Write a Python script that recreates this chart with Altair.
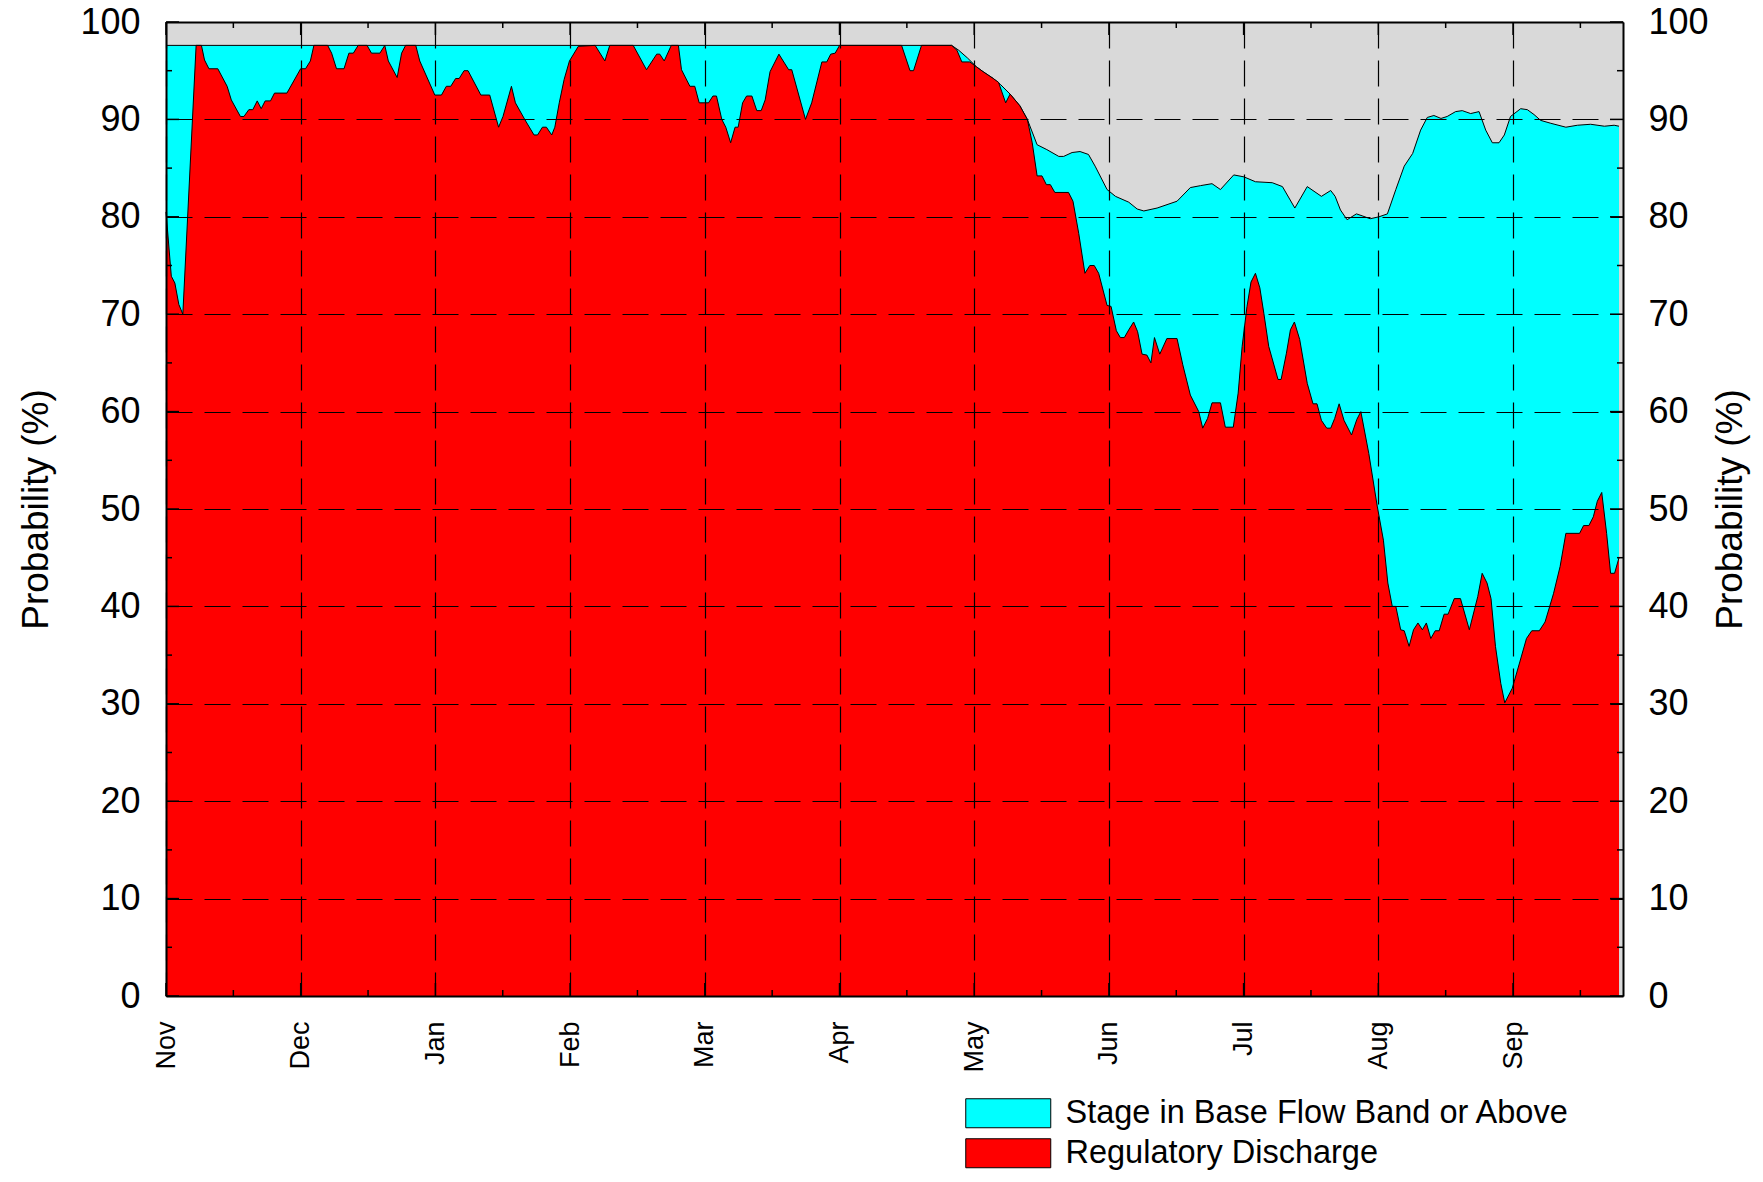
import altair as alt
import pandas as pd

# ---------------- data ----------------
MONTHS = ["Nov", "Dec", "Jan", "Feb", "Mar", "Apr", "May", "Jun", "Jul", "Aug", "Sep"]
SERIES = ["Stage in Base Flow Band or Above", "Regulatory Discharge"]
COLORS = ["#00ffff", "#ff0000"]
Y_MAJOR = [0, 10, 20, 30, 40, 50, 60, 70, 80, 90, 100]
Y_MINOR = [5, 15, 25, 35, 45, 55, 65, 75, 85, 95]

# Stage in base flow band or above (day since Nov 1, probability %)
STAGE_DAY = [0, 177.4, 179.0, 181.0, 183.0, 184.5, 186.8, 188.4, 190.6, 192.8, 194.5,
             196.7, 198.9, 201.6, 202.7, 204.6, 206.4, 208.3, 209.8, 212.5, 214.4,
             217.4, 219.3, 220.8, 223.8, 228.3, 231.3, 233.6, 236.2, 238.1, 241.1,
             243.4, 246.0, 249.8, 252.1, 254.9, 257.7, 260.9, 263.0, 264.0, 265.2,
             266.7, 268.8, 270.1, 271.9, 273.9, 275.8, 277.7, 279.6, 281.5, 283.3,
             284.8, 286.3, 287.9, 289.3, 291.2, 292.7, 294.6, 296.5, 298.0, 299.5,
             301.0, 302.2, 303.6, 305.9, 307.4, 308.9, 310.4, 312.7, 316.1, 318.7,
             321.7, 324.8, 327.0, 328.1]
STAGE_PCT = [97.6, 97.6, 97.1, 96.3, 95.4, 94.9, 94.2, 93.6, 92.6, 91.4, 90.0,
             87.4, 86.9, 86.2, 86.2, 86.6, 86.7, 86.4, 85.2, 82.8, 82.1,
             81.5, 80.8, 80.6, 80.9, 81.6, 83.0, 83.2, 83.4, 82.8, 84.3,
             84.1, 83.6, 83.5, 83.1, 80.9, 83.1, 82.1, 82.7, 82.1, 80.7,
             79.7, 80.3, 80.1, 79.8, 80.0, 80.3, 82.8, 85.2, 86.5, 88.9,
             90.2, 90.4, 90.1, 90.3, 90.8, 90.9, 90.6, 90.8, 88.9, 87.6,
             87.6, 88.4, 90.3, 91.1, 91.0, 90.5, 89.9, 89.6, 89.2, 89.4,
             89.5, 89.3, 89.4, 89.3]

# Regulatory discharge (day since Nov 1, probability %)
REG_DAY = [0, 1.2, 2.0, 2.9, 3.8, 6.8, 8.0, 8.7, 9.7, 11.7, 13.8, 14.75, 16.8, 17.6,
           18.7, 19.6, 20.6, 21.5, 22.4, 23.6, 24.5, 27.3, 30.4, 31.5, 32.6, 33.4,
           36.5, 37.4, 38.5, 40.2, 41.3, 42.3, 43.4, 45.4, 46.4, 48.3, 49.4, 50.2,
           52.2, 53.2, 54.1, 56.4, 57.3, 60.7, 62.2, 63.3, 64.3, 65.4, 66.2, 67.3,
           68.2, 71.1, 73.1, 75.1, 76.1, 78.0, 78.9, 81.0, 83.1, 83.9, 85.0, 85.9,
           87.1, 87.8, 88.8, 89.9, 91.1, 93.1, 96.9, 99.1, 100.2, 105.5, 108.5,
           110.8, 111.5, 112.5, 114.1, 115.7, 116.4, 118.3, 119.4, 120.4, 122.5,
           123.5, 124.3, 125.5, 126.4, 127.5, 128.5, 129.2, 130.2, 131.1, 132.3,
           133.4, 134.4, 135.3, 136.4, 138.4, 140.6, 141.3, 144.4, 145.8, 148.1,
           149.2, 150.1, 151.1, 152.1, 166.1, 168.0, 168.8, 170.6, 177.4, 178.6,
           179.7, 181.5, 183.0, 184.5, 186.8, 188.0, 189.6, 190.6, 192.8, 194.5,
           195.6, 196.7, 197.8, 198.8, 199.7, 200.7, 203.8, 204.8, 206.1, 207.5,
           208.6, 209.6, 210.6, 212.5, 213.4, 214.6, 215.5, 216.4, 217.4, 218.5,
           219.4, 220.4, 221.5, 222.4, 223.2, 224.4, 226.0, 228.3, 229.6, 231.3,
           233.2, 234.1, 235.2, 236.2, 238.1, 239.2, 241.0, 242.1, 243.0, 244.1,
           245.0, 246.0, 247.0, 247.9, 249.0, 251.1, 251.8, 253.0, 253.9, 254.8,
           256.0, 257.7, 259.0, 259.9, 260.9, 262.1, 263.0, 263.9, 264.9, 266.0,
           267.7, 268.9, 269.8, 271.6, 273.5, 274.9, 275.9, 276.9, 277.7, 278.8,
           279.6, 280.7, 281.7, 282.7, 283.7, 284.6, 285.6, 286.6, 287.5, 288.6,
           289.5, 290.9, 292.3, 294.3, 296.2, 297.2, 298.3, 299.2, 300.2, 301.4,
           302.3, 304.0, 305.7, 307.2, 308.4, 310.1, 311.4, 313.3, 314.8, 316.1,
           319.2, 320.1, 321.3, 322.3, 323.2, 324.2, 325.3, 326.2, 327.1, 328.1]
REG_PCT = [80.5, 73.9, 73.2, 71.0, 70.0, 97.6, 97.6, 96.1, 95.2, 95.2, 93.4, 92.0, 90.3, 90.3,
           91.0, 91.0, 91.9, 91.1, 91.9, 91.9, 92.7, 92.7, 95.2, 95.2, 96.0, 97.6,
           97.6, 96.8, 95.2, 95.2, 96.8, 96.8, 97.6, 97.6, 96.8, 96.8, 97.6, 96.0,
           94.3, 96.8, 97.6, 97.6, 96.0, 92.5, 92.5, 93.4, 93.4, 94.2, 94.2, 95.0,
           95.0, 92.5, 92.5, 89.2, 90.3, 93.4, 91.7, 90.0, 88.4, 88.4, 89.2, 89.2,
           88.4, 89.2, 91.7, 94.1, 96.0, 97.5, 97.6, 96.0, 97.6, 97.6, 95.1,
           96.7, 96.7, 96.0, 97.6, 97.6, 95.1, 93.4, 93.4, 91.7, 91.7,
           92.4, 92.4, 90.0, 89.2, 87.6, 89.2, 89.2, 91.7, 92.4, 92.4,
           90.9, 90.9, 92.0, 94.9, 96.7, 95.1, 95.1, 90.0, 91.7, 95.9,
           95.9, 96.7, 96.8, 97.6, 97.6, 95.0, 95.0, 97.6, 97.6, 97.1,
           95.9, 95.9, 95.4, 94.9, 94.2, 93.8, 91.7, 92.6, 91.4, 90.0,
           87.6, 84.2, 84.2, 83.3, 83.3, 82.5, 82.5, 81.6, 78.3, 74.2,
           75.0, 75.0, 74.2, 70.9, 70.8, 68.3, 67.6, 67.6, 68.4, 69.2,
           68.2, 65.9, 65.8, 65.0, 67.6, 65.9, 67.5, 67.5, 64.8, 61.7,
           60.0, 58.3, 59.3, 60.9, 60.9, 58.4, 58.4, 61.9, 66.7, 70.8,
           73.3, 74.2, 72.7, 70.1, 66.7, 63.3, 63.3, 66.0, 68.4, 69.2,
           67.4, 62.9, 60.8, 60.8, 59.1, 58.3, 58.3, 59.3, 60.8, 59.1,
           57.6, 59.2, 60.0, 55.7, 50.3, 46.8, 42.4, 40.0, 40.0, 37.6,
           37.5, 35.9, 37.6, 38.3, 37.6, 38.3, 36.7, 37.5, 37.5, 39.2,
           39.2, 40.8, 40.8, 37.6, 41.0, 43.4, 42.4, 40.8, 35.9, 32.1,
           30.1, 31.6, 34.3, 36.7, 37.5, 37.5, 38.4, 41.3, 44.1, 47.5,
           47.5, 48.3, 48.3, 49.2, 50.8, 51.7, 47.5, 43.4, 43.4, 45.0]

# ---------------- layout ----------------
W, H = 1457, 974
DAYS_PER_MONTH = 365 / 12
X_MAX = 329
MONTH_TICKS = [i * DAYS_PER_MONTH for i in range(len(MONTHS))]
MID_TICKS = [(i + 0.5) * DAYS_PER_MONTH for i in range(len(MONTHS))]
FONT = "Liberation Sans"

stage_df = pd.DataFrame({"day": STAGE_DAY, "pct": STAGE_PCT, "series": SERIES[0]})
reg_df = pd.DataFrame({"day": REG_DAY, "pct": REG_PCT, "series": SERIES[1]})
ymaj_df = pd.DataFrame({"v": Y_MAJOR})
ymin_df = pd.DataFrame({"v": Y_MINOR})
xmaj_df = pd.DataFrame({"d": MONTH_TICKS})
xmin_df = pd.DataFrame({"d": MID_TICKS})

xs = alt.Scale(domain=[0, X_MAX], nice=False, zero=False)
ys = alt.Scale(domain=[0, 100], nice=False)
cs = alt.Scale(domain=SERIES, range=COLORS)

label_expr = "[" + ",".join("'%s'" % m for m in MONTHS) + "][round(datum.value / %f)]" % DAYS_PER_MONTH

grid_style = dict(gridColor="black", gridDash=[26, 12], gridWidth=1.2, gridOpacity=1)

x_bottom = alt.Axis(orient="bottom", values=MONTH_TICKS, labelExpr=label_expr,
                    labelAngle=270, labelAlign="right", labelBaseline="middle",
                    labelPadding=25, labelFontSize=27, labelFlush=False, labelOverlap=False,
                    ticks=False, domain=True, domainColor="black", domainWidth=2,
                    grid=True, title=None, zindex=1, **grid_style)
x_top = alt.Axis(orient="top", labels=False, ticks=False, grid=False, domain=True,
                 domainColor="black", domainWidth=2, title=None, zindex=1)
y_left = alt.Axis(orient="left", values=Y_MAJOR, labelFontSize=36, labelPadding=26,
                  labelFlush=False, labelOverlap=False, ticks=False, domain=True,
                  domainColor="black", domainWidth=2, grid=True,
                  title="Probability (%)", titleFontSize=37, titleFontWeight="normal",
                  titlePadding=24, zindex=1, **grid_style)
y_right = alt.Axis(orient="right", values=Y_MAJOR, labelFontSize=36, labelPadding=25,
                   labelFlush=False, labelOverlap=False, ticks=False, domain=True,
                   domainColor="black", domainWidth=2, grid=False,
                   title="Probability (%)", titleFontSize=37, titleFontWeight="normal",
                   titleAngle=270, titleBaseline="top", titlePadding=4, zindex=1)

# wide rectangular swatch: unit path scaled by sqrt(symbolSize)/2 = 14.5 px
legend = alt.Legend(orient="none", legendX=826, legendY=1075, title=None, direction="vertical",
                    symbolType="M-2.931,-1L2.931,-1L2.931,1L-2.931,1Z", symbolSize=841,
                    symbolStrokeColor="black", symbolStrokeWidth=1, symbolOpacity=1,
                    labelFontSize=32.5, labelFont=FONT, labelColor="black", labelOffset=41,
                    rowPadding=6, padding=0, labelLimit=1000)

stage_area = alt.Chart(stage_df).mark_area(opacity=1, fillOpacity=1).encode(
    x=alt.X("day:Q", scale=xs, axis=x_bottom),
    y=alt.Y("pct:Q", scale=ys, axis=y_left),
    color=alt.Color("series:N", scale=cs, legend=legend),
)
stage_line = alt.Chart(stage_df).mark_line(color="black", strokeWidth=1).encode(
    x=alt.X("day:Q", scale=xs, axis=None),
    y=alt.Y("pct:Q", scale=ys, axis=None),
)
reg_area = alt.Chart(reg_df).mark_area(opacity=1, fillOpacity=1).encode(
    x=alt.X("day:Q", scale=xs, axis=None),
    y=alt.Y("pct:Q", scale=ys, axis=y_right),
    color=alt.Color("series:N", scale=cs, legend=None),
)
reg_line = alt.Chart(reg_df).mark_line(color="black", strokeWidth=1).encode(
    x=alt.X("day:Q", scale=xs, axis=None),
    y=alt.Y("pct:Q", scale=ys, axis=None),
)

rule = dict(color="black", strokeWidth=1.5)
left_major = alt.Chart(ymaj_df).mark_rule(**rule).encode(
    y=alt.Y("v:Q", scale=ys, axis=None), x=alt.value(0), x2=alt.value(13))
left_minor = alt.Chart(ymin_df).mark_rule(**rule).encode(
    y=alt.Y("v:Q", scale=ys, axis=None), x=alt.value(0), x2=alt.value(6))
right_major = alt.Chart(ymaj_df).mark_rule(**rule).encode(
    y=alt.Y("v:Q", scale=ys, axis=None), x=alt.value(W), x2=alt.value(W - 13))
right_minor = alt.Chart(ymin_df).mark_rule(**rule).encode(
    y=alt.Y("v:Q", scale=ys, axis=None), x=alt.value(W), x2=alt.value(W - 6))
bottom_major = alt.Chart(xmaj_df).mark_rule(**rule).encode(
    x=alt.X("d:Q", scale=xs, axis=None), y=alt.value(H), y2=alt.value(H - 13))
bottom_minor = alt.Chart(xmin_df).mark_rule(**rule).encode(
    x=alt.X("d:Q", scale=xs, axis=None), y=alt.value(H), y2=alt.value(H - 6))
top_major = alt.Chart(xmaj_df).mark_rule(**rule).encode(
    x=alt.X("d:Q", scale=xs, axis=x_top), y=alt.value(0), y2=alt.value(13))
top_minor = alt.Chart(xmin_df).mark_rule(**rule).encode(
    x=alt.X("d:Q", scale=xs, axis=None), y=alt.value(0), y2=alt.value(6))

chart = alt.layer(
    stage_area, stage_line, reg_area, reg_line,
    left_major, left_minor, right_major, right_minor,
    bottom_major, bottom_minor, top_major, top_minor,
).resolve_scale(
    x="shared", y="shared", color="shared"
).resolve_axis(
    x="independent", y="independent"
).properties(
    width=W, height=H,
    autosize=alt.AutoSizeParams(type="none"),
    padding={"left": 158, "top": 14, "right": 132, "bottom": 178},
    background="white",
).configure_view(
    fill="#d9d9d9", stroke=None
).configure_axis(
    labelFont=FONT, titleFont=FONT, labelColor="black", titleColor="black"
).configure_legend(
    labelFont=FONT
)

chart.save("out.html", embed_options={"renderer": "svg", "actions": False})
